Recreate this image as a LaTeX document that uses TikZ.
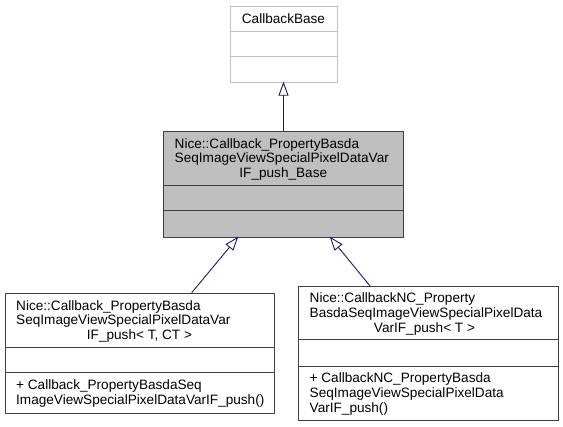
\documentclass[tikz,border=0pt]{standalone}
\usepackage{fontspec}
\setmainfont{Liberation Sans}
\usetikzlibrary{arrows.meta}
\definecolor{edgeblue}{HTML}{191970}
\definecolor{boxfill}{HTML}{BFBFBF}
\definecolor{boxline}{HTML}{404040}
\definecolor{lightline}{HTML}{C0C0C0}
\begin{document}
\begin{tikzpicture}[x=1pt,y=-1pt,
  cls/.style={draw=boxline, line width=1pt, inner sep=0pt, anchor=north west},
  basecls/.style={cls, draw=lightline},
  divline/.style={draw=boxline, line width=1pt},
  lightdiv/.style={draw=lightline, line width=1pt},
  txt/.style={inner sep=0pt, yshift=-1.5pt, font=\fontsize{13.6}{14.7}\selectfont},
  ltxt/.style={txt, anchor=west},
  inh/.style={draw=edgeblue, line width=0.9pt, -{Triangle[open, length=14pt, width=10pt]}}]
\useasboundingbox (0,0) rectangle (563,427);

% CallbackBase
\node[basecls, minimum width=106.4pt, minimum height=76pt] (base) at (230.3,5.7) {};
\draw[lightdiv] (base.west |- 0,31.7) -- (base.east |- 0,31.7);
\draw[lightdiv] (base.west |- 0,56.7) -- (base.east |- 0,56.7);
\node[txt] (basetxt) at (283.5,18.7) {\begin{tabular}{@{}c@{}}CallbackBase\end{tabular}};

% middle class
\node[cls, fill=boxfill, minimum width=240pt, minimum height=105.7pt] (mid) at (163.3,131) {};
\draw[divline] (mid.west |- 0,185.7) -- (mid.east |- 0,185.7);
\draw[divline] (mid.west |- 0,210.7) -- (mid.east |- 0,210.7);
\node[ltxt] (midtxt) at (174.5,150.95) {\begin{tabular}{@{}l@{}}Nice::Callback\_PropertyBasda\\SeqImageViewSpecialPixelDataVar\end{tabular}};
\node[txt] (midtxtc) at (283.3,173) {\begin{tabular}{@{}c@{}}IF\_push\_Base\end{tabular}};

% left class
\node[cls, minimum width=269pt, minimum height=120pt] (lc) at (5,292.7) {};
\draw[divline] (lc.west |- 0,348) -- (lc.east |- 0,348);
\draw[divline] (lc.west |- 0,373) -- (lc.east |- 0,373);
\node[ltxt] (lctxt) at (16,313.15) {\begin{tabular}{@{}l@{}}Nice::Callback\_PropertyBasda\\SeqImageViewSpecialPixelDataVar\end{tabular}};
\node[txt] (lctxtc) at (139.5,335.2) {\begin{tabular}{@{}c@{}}IF\_push< T, CT >\end{tabular}};
\node[ltxt] (lcm) at (16,392.8) {\begin{tabular}{@{}l@{}}+ Callback\_PropertyBasdaSeq\\ImageViewSpecialPixelDataVarIF\_push()\end{tabular}};

% right class
\node[cls, minimum width=259.5pt, minimum height=134pt] (rc) at (298,286.3) {};
\draw[divline] (rc.west |- 0,340) -- (rc.east |- 0,340);
\draw[divline] (rc.west |- 0,366.2) -- (rc.east |- 0,366.2);
\node[ltxt] (rctxt) at (309.5,305.65) {\begin{tabular}{@{}l@{}}Nice::CallbackNC\_Property\\BasdaSeqImageViewSpecialPixelData\end{tabular}};
\node[txt] (rctxtc) at (424.5,327.7) {\begin{tabular}{@{}c@{}}VarIF\_push< T >\end{tabular}};
\node[ltxt] (rcm) at (309.5,393.2) {\begin{tabular}{@{}l@{}}+ CallbackNC\_PropertyBasda\\SeqImageViewSpecialPixelData\\VarIF\_push()\end{tabular}};

% connectors
\coordinate (t0) at (283.5,81.7);
\coordinate (s0) at (283.5,131);
\coordinate (t1) at (238.3,236.7);
\coordinate (s1) at (191.7,292.7);
\coordinate (t2) at (329.7,236.7);
\coordinate (s2) at (370.3,286.3);
\draw[inh] (s0) -- (t0);
\draw[inh] (s1) -- (t1);
\draw[inh] (s2) -- (t2);
\end{tikzpicture}
\end{document}
